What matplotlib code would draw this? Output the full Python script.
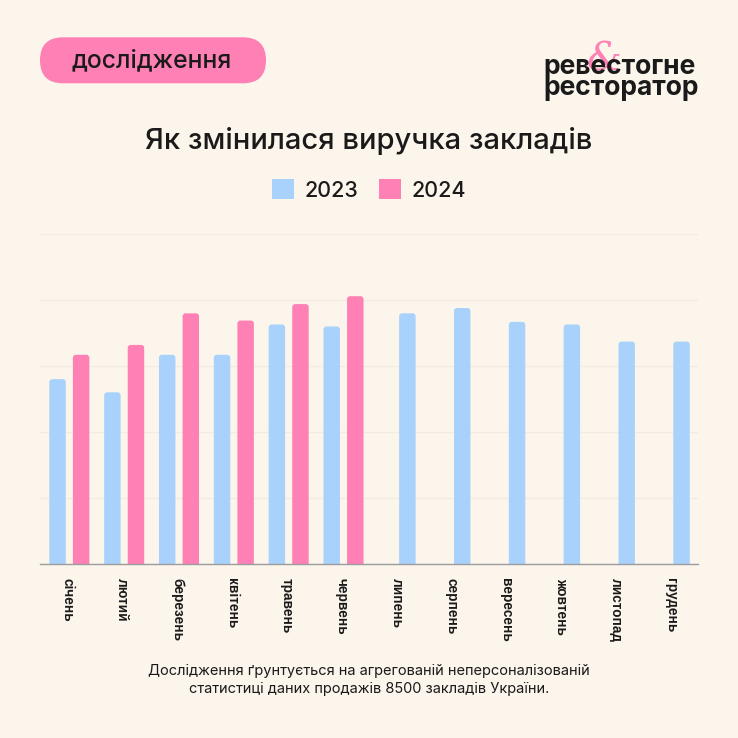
import matplotlib
matplotlib.use("Agg")
import matplotlib.pyplot as plt
import numpy as np
from matplotlib.patches import FancyBboxPatch, Patch

# ---- data ----
months = ["січень", "лютий", "березень", "квітень", "травень", "червень",
          "липень", "серпень", "вересень", "жовтень", "листопад", "грудень"]
rev_2023 = [2.80, 2.60, 3.17, 3.17, 3.63, 3.60, 3.80, 3.88, 3.67, 3.63, 3.37, 3.37]
rev_2024 = [3.17, 3.32, 3.80, 3.69, 3.94, 4.06]
series_labels = ["2023", "2024"]

title = "Як змінилася виручка закладів"
badge = "дослідження"
note = ("Дослідження ґрунтується на агрегованій неперсоналізованій\n"
        "статистиці даних продажів 8500 закладів України.")

BG = "#FCF5EC"
BLUE = "#A8D1FC"
PINK = "#FF80B4"
DARK = "#1A1A1A"
FONT = ["Inter", "DejaVu Sans"]

plt.rcParams["font.family"] = FONT

W = 738
fig = plt.figure(figsize=(7.38, 7.38), dpi=100, facecolor=BG)

def fy(py):
    return 1 - py / W

ax = fig.add_axes([40 / W, fy(563.5), 658 / W, (563.5 - 234.3) / W])
ax.set_facecolor(BG)

n = len(months)
x = np.arange(n)
paired = len(rev_2024)
off_blue = np.where(x < paired, -0.18, 0.2)
bars23 = ax.bar(x + off_blue, rev_2023, width=0.3, color=BLUE, label=series_labels[0])
bars24 = ax.bar(x[:paired] + 0.25, rev_2024, width=0.3, color=PINK, label=series_labels[1])

ax.set_xlim(-0.5, n - 0.5)
ax.set_ylim(0, 5)

# rounded tops
r = 0.055
aspect = 0.83
for cont in (bars23, bars24):
    for rect in cont.patches:
        x0, w, h = rect.get_x(), rect.get_width(), rect.get_height()
        fc = rect.get_facecolor()
        rect.set_visible(False)
        p = FancyBboxPatch((x0, -0.3), w, h + 0.3,
                           boxstyle=f"round,pad=0,rounding_size={r}",
                           mutation_aspect=aspect, fc=fc, ec="none", zorder=2)
        ax.add_patch(p)

ax.set_yticks(np.arange(0, 6))
ax.yaxis.grid(True, color="#F1EBE2", lw=1)
ax.set_axisbelow(True)
ax.tick_params(axis="y", left=False, labelleft=False)
for s in ("left", "right", "top"):
    ax.spines[s].set_visible(False)
ax.spines["bottom"].set_color("#9C9C9C")
ax.spines["bottom"].set_linewidth(1.0)
ax.spines["bottom"].set_zorder(3)

ax.set_xticks(x)
ax.set_xticklabels(months, rotation=270, ha="center", va="top",
                   family=["Liberation Sans", "DejaVu Sans"], fontweight="bold",
                   fontsize=9.8, color=DARK)
ax.tick_params(axis="x", length=0, pad=10.5)

# title
fig.text(0.5, fy(141), title, ha="center", va="center", fontsize=21,
         fontweight="medium", color=DARK)

# legend
handles = [Patch(facecolor=BLUE, edgecolor="none"), Patch(facecolor=PINK, edgecolor="none")]
leg = fig.legend(handles=handles, labels=series_labels, loc="center",
                 bbox_to_anchor=(0.5, fy(190)), ncol=2, frameon=False,
                 fontsize=15.5, handlelength=1.03, handleheight=1.03,
                 handletextpad=0.48, columnspacing=0.95)
for t in leg.get_texts():
    t.set_color(DARK)
    t.set_fontweight("medium")

# badge
pill = FancyBboxPatch((40 / W, fy(83.3)), 226 / W, 46 / W,
                      boxstyle=f"round,pad=0,rounding_size={23 / W}",
                      transform=fig.transFigure, fc=PINK, ec="none")
fig.patches.append(pill)
fig.text(152 / W, fy(61), badge, ha="center", va="center", fontsize=17.8,
         fontweight="medium", color=DARK)

# logo
fig.text(604 / W, fy(60), "&", ha="center", va="center", fontsize=28,
         color=PINK, family=["DejaVu Serif"], fontweight="light",
         fontstyle="italic", zorder=0)
fig.text(543 / W, fy(73.5), "ревестогне", ha="left", va="baseline",
         fontsize=19, fontweight="bold", color=DARK, zorder=2)
fig.text(543 / W, fy(95), "ресторатор", ha="left", va="baseline",
         fontsize=19, fontweight="bold", color=DARK, zorder=2)

# footnote
fig.text(0.5, fy(680), note, ha="center", va="center", fontsize=10.5,
         color=DARK, linespacing=1.45)

fig.savefig("out.png", dpi=100, facecolor=BG)
